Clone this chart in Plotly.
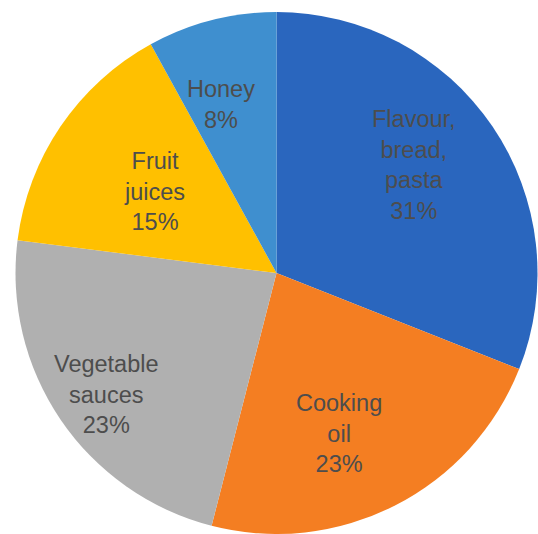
import math
import plotly.graph_objects as go

labels = ["Flavour,<br>bread,<br>pasta", "Cooking<br>oil", "Vegetable<br>sauces", "Fruit<br>juices", "Honey"]
values = [31, 23, 23, 15, 8]
colors = ["#2A66BE", "#F47E22", "#B0B0B0", "#FFC000", "#3F8FCF"]

# label placement style (fraction of radius, angular nudge in degrees)
label_radius = [0.67, 0.66, 0.80, 0.56, 0.68]
label_shift = [-4.0, 5.7, -1.4, -0.5, -3.8]

W, H = 538, 534
ML, MR, MT, MB = 15, 0, 12, 0
pw, ph = W - ML - MR, H - MT - MB
R = min(pw, ph) / 2

fig = go.Figure(go.Pie(
    labels=labels,
    values=values,
    sort=False,
    direction="clockwise",
    rotation=0,
    marker=dict(colors=colors, line=dict(width=0)),
    textinfo="none",
    hoverinfo="label+percent",
    showlegend=False,
))

total = sum(values)
cum = 0
for lab, v, fr, sh in zip(labels, values, label_radius, label_shift):
    mid = (cum + v / 2) / total * 360 + sh
    cum += v
    a = math.radians(mid)
    dx = fr * R * math.sin(a)
    dy = fr * R * math.cos(a)
    fig.add_annotation(
        x=0.5 + dx / pw, y=0.5 + dy / ph,
        xref="paper", yref="paper",
        text=f"{lab}<br>{v / total * 100:.0f}%",
        showarrow=False, xanchor="center", yanchor="middle", align="center",
        font=dict(family="Liberation Sans, Arial, sans-serif", size=23.5, color="#4D4D4D"),
    )

fig.update_layout(
    width=W, height=H,
    margin=dict(l=ML, r=MR, t=MT, b=MB),
    paper_bgcolor="white",
    plot_bgcolor="white",
)

fig.write_html("out.html")
